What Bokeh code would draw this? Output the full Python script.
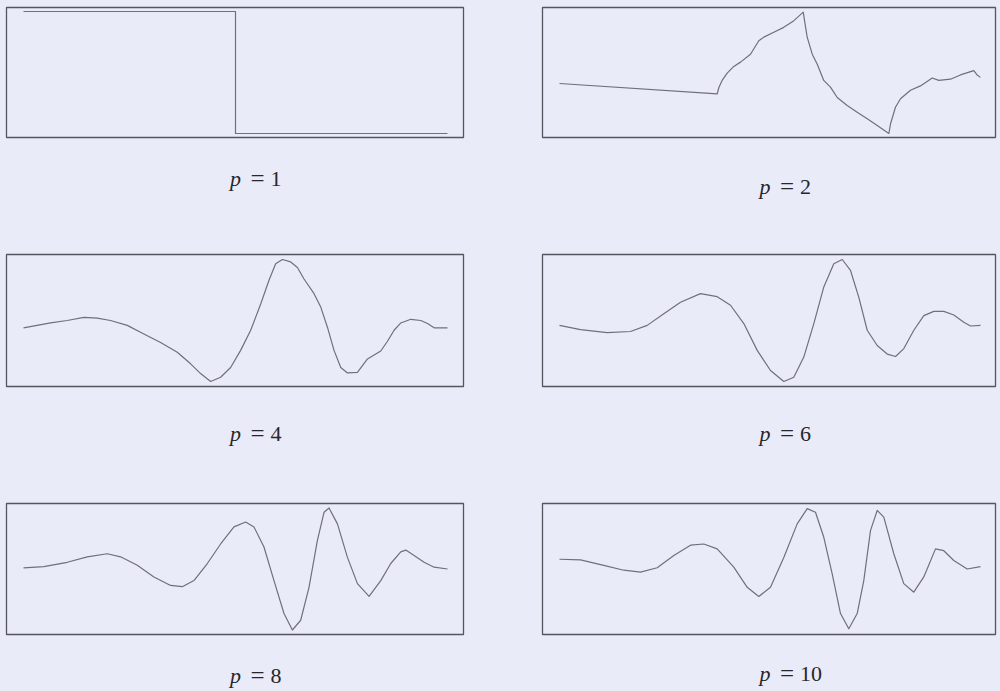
from bokeh.plotting import figure
from bokeh.layouts import column, row
from bokeh.models import Range1d
from bokeh.core.properties import value
from bokeh.embed import file_html
from bokeh.resources import INLINE

BG = "#e9ebf8"
LINE = "#707078"
BOX = "#55555d"
TXT = "#26262b"
FONT = "Liberation Serif"

# ---- data (x in support units, y in amplitude units) ----
p_values = [1, 2, 4, 6, 8, 10]

p1_x = [0, 0.5, 0.5, 1]
p1_y = [1, 1, -1, -1]

p2_x = [0.0, 1.124, 1.135, 1.159, 1.195, 1.242, 1.290, 1.361, 1.420, 1.456, 1.527, 1.598,
        1.670, 1.737, 1.746, 1.765, 1.801, 1.836, 1.883, 1.931, 1.979, 2.050, 2.121, 2.193,
        2.264, 2.347, 2.359, 2.394, 2.430, 2.501, 2.572, 2.656, 2.703, 2.786, 2.857, 2.952,
        2.976, 3.0]
p2_y = [-0.18, -0.35, -0.25, -0.13, -0.01, 0.10, 0.17, 0.30, 0.52, 0.58, 0.66, 0.74,
        0.85, 0.99, 0.85, 0.58, 0.30, 0.14, -0.13, -0.24, -0.41, -0.54, -0.65, -0.76,
        -0.87, -1.00, -0.84, -0.57, -0.43, -0.29, -0.22, -0.09, -0.13, -0.11, -0.04, 0.03,
        -0.04, -0.08]

p4_x = [0.0, 0.446, 0.721, 0.996, 1.217, 1.436, 1.712, 1.986, 2.262, 2.537, 2.757, 2.922,
        3.087, 3.252, 3.417, 3.582, 3.748, 3.913, 4.050, 4.160, 4.271, 4.408, 4.519, 4.628,
        4.793, 4.904, 5.014, 5.123, 5.234, 5.345, 5.509, 5.675, 5.894, 6.005, 6.114, 6.225,
        6.390, 6.555, 6.665, 6.774, 6.995]
p4_y = [-0.12, -0.04, 0.0, 0.05, 0.04, 0.0, -0.08, -0.22, -0.36, -0.52, -0.71, -0.87,
        -1.00, -0.93, -0.77, -0.49, -0.16, 0.27, 0.66, 0.93, 1.00, 0.96, 0.87, 0.68,
        0.44, 0.22, -0.11, -0.49, -0.77, -0.86, -0.85, -0.63, -0.50, -0.34, -0.16, -0.04,
        0.02, 0.0, -0.05, -0.12, -0.12]

p6_x = [0.0, 0.549, 1.246, 1.855, 2.292, 2.725, 3.162, 3.684, 4.121, 4.468, 4.816, 5.166,
        5.513, 5.861, 6.122, 6.383, 6.645, 6.906, 7.167, 7.387, 7.604, 7.821, 8.040, 8.301,
        8.563, 8.780, 8.997, 9.258, 9.519, 9.780, 10.042, 10.303, 10.564, 10.739, 11.0]
p6_y = [-0.08, -0.15, -0.20, -0.18, -0.08, 0.11, 0.30, 0.44, 0.39, 0.25, -0.05, -0.49,
        -0.82, -1.00, -0.93, -0.60, -0.05, 0.55, 0.93, 1.00, 0.82, 0.38, -0.16, -0.41,
        -0.55, -0.59, -0.46, -0.16, 0.08, 0.15, 0.15, 0.09, -0.03, -0.09, -0.08]

p8_x = [0.0, 0.718, 1.546, 2.254, 2.961, 3.432, 4.022, 4.610, 5.200, 5.614, 6.025, 6.499,
        6.969, 7.440, 7.854, 8.147, 8.501, 8.855, 9.209, 9.506, 9.799, 10.093, 10.390, 10.624,
        10.801, 11.098, 11.452, 11.805, 12.216, 12.630, 12.983, 13.337, 13.514, 13.808,
        14.162, 14.515, 14.989]
p8_y = [0.02, 0.04, 0.11, 0.20, 0.25, 0.20, 0.06, -0.13, -0.27, -0.29, -0.19, 0.09,
        0.41, 0.69, 0.77, 0.69, 0.36, -0.19, -0.73, -1.00, -0.84, -0.30, 0.47, 0.93,
        1.00, 0.74, 0.19, -0.24, -0.45, -0.19, 0.09, 0.28, 0.31, 0.22,
        0.11, 0.03, 0.0]

p10_x = [0.0, 0.948, 1.999, 2.902, 3.656, 4.409, 5.158, 5.912, 6.512, 7.117, 7.866, 8.471,
         8.994, 9.522, 10.123, 10.727, 11.179, 11.553, 11.928, 12.307, 12.682, 13.056,
         13.435, 13.733, 14.035, 14.338, 14.636, 15.087, 15.538, 15.990, 16.441, 16.969,
         17.344, 17.795, 18.400, 19.0]
p10_y = [0.16, 0.15, 0.06, -0.02, -0.05, 0.02, 0.22, 0.39, 0.41, 0.33, 0.03, -0.30,
         -0.45, -0.30, 0.19, 0.74, 0.99, 0.93, 0.52, -0.08, -0.73, -0.98,
         -0.73, -0.19, 0.63, 0.96, 0.85, 0.25, -0.24, -0.38, -0.13, 0.33,
         0.30, 0.14, 0.0, 0.04]

series = [(p1_x, p1_y), (p2_x, p2_y), (p4_x, p4_y), (p6_x, p6_y), (p8_x, p8_y), (p10_x, p10_y)]

# ---- layout (pixels) ----
UNIT = 61.0  # px per amplitude unit
cols = [  # width, border_left, border_right, curve pad left / span / pad right, label offset
    dict(w=500, bl=6, br=37, pl=17, span=424, pr=16, off=22),
    dict(w=499, bl=42, br=4, pl=17, span=421, pr=15, off=17),
]
rows = [  # plot height, border top, frame height, label-strip height, label centre from strip top
    dict(h=140, bt=7, fh=130, lh=106, ly=[38, 46]),
    dict(h=143, bt=8, fh=132, lh=103, ly=[44, 44]),
    dict(h=145, bt=11, fh=131, lh=52, ly=[38, 36]),
]


def base_fig(c, h, xr, yr):
    f = figure(width=c["w"], height=h, x_range=xr, y_range=yr,
               output_backend="svg", toolbar_location=None, title=None,
               x_axis_location=None, y_axis_location=None, min_border=0)
    f.min_border_left = c["bl"]
    f.min_border_right = c["br"]
    f.grid.visible = False
    f.background_fill_color = BG
    f.border_fill_color = BG
    return f


plot_rows = []
for ri in range(3):
    r = rows[ri]
    plots, labels = [], []
    for ci in range(2):
        i = ri * 2 + ci
        c = cols[ci]
        xs, ys = series[i]
        S = xs[-1]
        xr = Range1d(-S * c["pl"] / c["span"], S * (c["span"] + c["pr"]) / c["span"])
        half = (r["fh"] / 2.0) / UNIT
        f = base_fig(c, r["h"], xr, Range1d(-half, half))
        f.min_border_top = r["bt"]
        f.min_border_bottom = r["h"] - r["bt"] - r["fh"]
        f.outline_line_color = BOX
        f.outline_line_width = 1.3
        f.line(xs, ys, line_color=LINE, line_width=1.2, line_join="round")
        plots.append(f)

        lf = base_fig(c, r["lh"], xr, Range1d(r["lh"], 0))
        lf.min_border_top = 0
        lf.min_border_bottom = 0
        lf.outline_line_color = None
        cx = S / 2.0
        ly = r["ly"][ci]
        off = c["off"]
        common = dict(text_font=value(FONT), text_color=TXT, text_baseline="middle")
        lf.text(x=[cx], y=[ly], text=["p"], x_offset=off - 22, text_align="center",
                text_font_style="italic", text_font_size="22px", **common)
        lf.text(x=[cx], y=[ly], text=["="], x_offset=off, text_align="center",
                text_font_size="25px", **common)
        lf.text(x=[cx], y=[ly], text=[str(p_values[i])], x_offset=off + 13,
                text_align="left", text_font_size="22px", **common)
        labels.append(lf)
    plot_rows.append(row(*plots))
    plot_rows.append(row(*labels))

p = column(*plot_rows)

html = file_html(p, INLINE)
html = html.replace("<head>", "<head><style>html,body{background-color:%s;}</style>" % BG, 1)
open("out.html", "w").write(html)
